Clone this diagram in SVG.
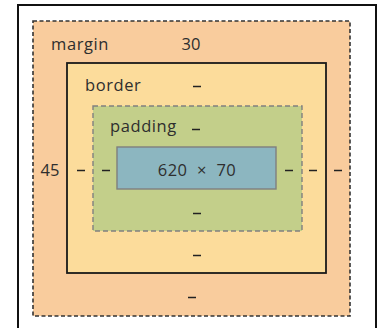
<svg xmlns="http://www.w3.org/2000/svg" width="380" height="328" viewBox="0 0 380 328">
<style>
text{font-family:"Open Sans","Noto Sans","Liberation Sans",sans-serif;font-size:16.5px;fill:#2e2e2e}
.l{letter-spacing:0.6px}
.c{text-anchor:middle}
.d{stroke:#222;stroke-width:1.5}
</style>
<rect x="0" y="0" width="380" height="328" fill="#fff"/>
<g id="frame"><rect x="18" y="5" width="358" height="340" fill="#fff" stroke="#111" stroke-width="2"/></g>
<g id="margin">
<rect x="33" y="21" width="317" height="295" fill="#f9cc9d" stroke="#333" stroke-width="1.6" stroke-dasharray="4 2.5"/>
<text x="51" y="50" class="l">margin</text>
<text x="191" y="50" class="c">30</text>
<text x="50" y="176" class="c">45</text>
<line class="d" x1="334" y1="170.5" x2="342" y2="170.5"/>
<line class="d" x1="188" y1="297.5" x2="196" y2="297.5"/>
</g>
<g id="border">
<rect x="67" y="63" width="259" height="210" fill="#fcdc9b" stroke="#1a1a1a" stroke-width="1.8"/>
<text x="85" y="91" class="l">border</text>
<line class="d" x1="193" y1="86.5" x2="201" y2="86.5"/>
<line class="d" x1="77" y1="170.5" x2="85" y2="170.5"/>
<line class="d" x1="309" y1="170.5" x2="317" y2="170.5"/>
<line class="d" x1="193" y1="255.5" x2="201" y2="255.5"/>
</g>
<g id="padding">
<rect x="93" y="106" width="209" height="125" fill="#c3cf8a" stroke="#808080" stroke-width="1.4" stroke-dasharray="5 3"/>
<text x="110" y="132" class="l">padding</text>
<line class="d" x1="192" y1="129.5" x2="200" y2="129.5"/>
<line class="d" x1="102" y1="170.5" x2="110" y2="170.5"/>
<line class="d" x1="285" y1="170.5" x2="293" y2="170.5"/>
<line class="d" x1="193" y1="213.5" x2="201" y2="213.5"/>
</g>
<g id="content">
<rect x="117" y="147" width="159" height="42" fill="#8cb6c0" stroke="#7f7f7f" stroke-width="1.4"/>
<text x="197" y="176" class="c" style="word-spacing:5px;letter-spacing:0.4px">620 × 70</text>
</g>
</svg>
